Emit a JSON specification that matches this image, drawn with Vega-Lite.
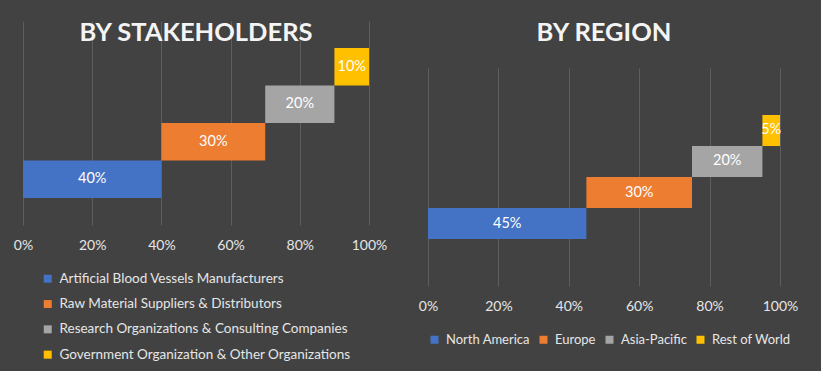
{
  "$schema": "https://vega.github.io/schema/vega-lite/v6.json",
  "background": "#424242",
  "padding": {"left": 13, "top": 20, "right": 30, "bottom": 5},
  "spacing": 31,
  "config": {
    "font": "Lato",
    "view": {"stroke": null},
    "axis": {"labelColor": "#e6e6e6", "labelFontSize": 14, "labelFlush": false, "gridColor": "#5e5e5e", "gridWidth": 1, "domain": false, "ticks": false, "tickSize": 0, "labelPadding": 13},
    "legend": {"labelColor": "#e6e6e6", "labelFontSize": 13.5, "labelLimit": 500, "labelOffset": 5, "symbolType": "square", "symbolSize": 64, "symbolStrokeWidth": 0},
    "title": {"color": "#f4f4f4", "fontSize": 25.5, "fontWeight": "bold", "font": "Lato", "frame": "group", "baseline": "middle", "offset": -25}
  },
  "datasets": {
    "stake": [
      {"cat": "Artificial Blood Vessels Manufacturers", "start": 0, "end": 0.4, "share": 0.4},
      {"cat": "Raw Material Suppliers & Distributors", "start": 0.4, "end": 0.7, "share": 0.3},
      {"cat": "Research Organizations & Consulting Companies", "start": 0.7, "end": 0.9, "share": 0.2},
      {"cat": "Government Organization  & Other Organizations", "start": 0.9, "end": 1.0, "share": 0.1}
    ],
    "region": [
      {"cat": "North America", "start": 0, "end": 0.45, "share": 0.45},
      {"cat": "Europe", "start": 0.45, "end": 0.75, "share": 0.3},
      {"cat": "Asia-Pacific", "start": 0.75, "end": 0.95, "share": 0.2},
      {"cat": "Rest of World", "start": 0.95, "end": 1.0, "share": 0.05}
    ]
  },
  "hconcat": [
    {
      "width": 346,
      "height": 204,
      "title": {"text": "BY STAKEHOLDERS"},
      "data": {"name": "stake"},
      "encoding": {
        "y": {"field": "cat", "type": "nominal", "sort": ["Government Organization  & Other Organizations", "Research Organizations & Consulting Companies", "Raw Material Suppliers & Distributors", "Artificial Blood Vessels Manufacturers"], "scale": {"paddingInner": 0, "paddingOuter": 0.72}, "axis": null}
      },
      "layer": [
        {
          "mark": {"type": "bar"},
          "encoding": {
            "x": {"field": "start", "type": "quantitative", "scale": {"domain": [0, 1]}, "axis": {"title": null, "format": "%", "values": [0, 0.2, 0.4, 0.6, 0.8, 1]}},
            "x2": {"field": "end"},
            "color": {"field": "cat", "type": "nominal", "scale": {"domain": ["Artificial Blood Vessels Manufacturers", "Raw Material Suppliers & Distributors", "Research Organizations & Consulting Companies", "Government Organization  & Other Organizations"], "range": ["#4472c4", "#ed7d31", "#a5a5a5", "#ffc000"]}, "legend": {"title": null, "orient": "bottom", "direction": "vertical", "rowPadding": 10.3, "padding": 18, "offset": 2}}
          }
        },
        {
          "transform": [{"calculate": "(datum.start + datum.end) / 2", "as": "mid"}],
          "mark": {"type": "text", "color": "#ffffff", "fontSize": 14.5},
          "encoding": {
            "x": {"field": "mid", "type": "quantitative"},
            "text": {"field": "share", "type": "quantitative", "format": ".0%"}
          }
        }
      ]
    },
    {
      "spacing": 0,
      "vconcat": [
        {
          "width": 352,
          "height": 47,
          "title": {"text": "BY REGION"},
          "data": {"values": []},
          "mark": {"type": "point", "opacity": 0},
          "encoding": {}
        },
        {
          "width": 352,
          "height": 218,
          "data": {"name": "region"},
          "encoding": {
            "y": {"field": "cat", "type": "nominal", "scale": {"domain": ["", "Rest of World", "Asia-Pacific", "Europe", "North America", " "], "paddingInner": 0, "paddingOuter": 0.516}, "axis": null}
          },
          "layer": [
            {
              "mark": {"type": "bar"},
              "encoding": {
                "x": {"field": "start", "type": "quantitative", "scale": {"domain": [0, 1]}, "axis": {"title": null, "format": "%", "values": [0, 0.2, 0.4, 0.6, 0.8, 1]}},
                "x2": {"field": "end"},
                "color": {"field": "cat", "type": "nominal", "scale": {"domain": ["North America", "Europe", "Asia-Pacific", "Rest of World"], "range": ["#4472c4", "#ed7d31", "#a5a5a5", "#ffc000"]}, "legend": {"title": null, "orient": "bottom", "direction": "horizontal", "columnPadding": 7, "labelFontSize": 13, "offset": 20}}
              }
            },
            {
              "transform": [{"calculate": "(datum.start + datum.end) / 2", "as": "mid"}],
              "mark": {"type": "text", "color": "#ffffff", "fontSize": 14.5},
              "encoding": {
                "x": {"field": "mid", "type": "quantitative"},
                "text": {"field": "share", "type": "quantitative", "format": ".0%"}
              }
            }
          ]
        }
      ]
    }
  ],
  "resolve": {"scale": {"color": "independent", "x": "independent", "y": "independent"}, "legend": {"color": "independent"}}
}
